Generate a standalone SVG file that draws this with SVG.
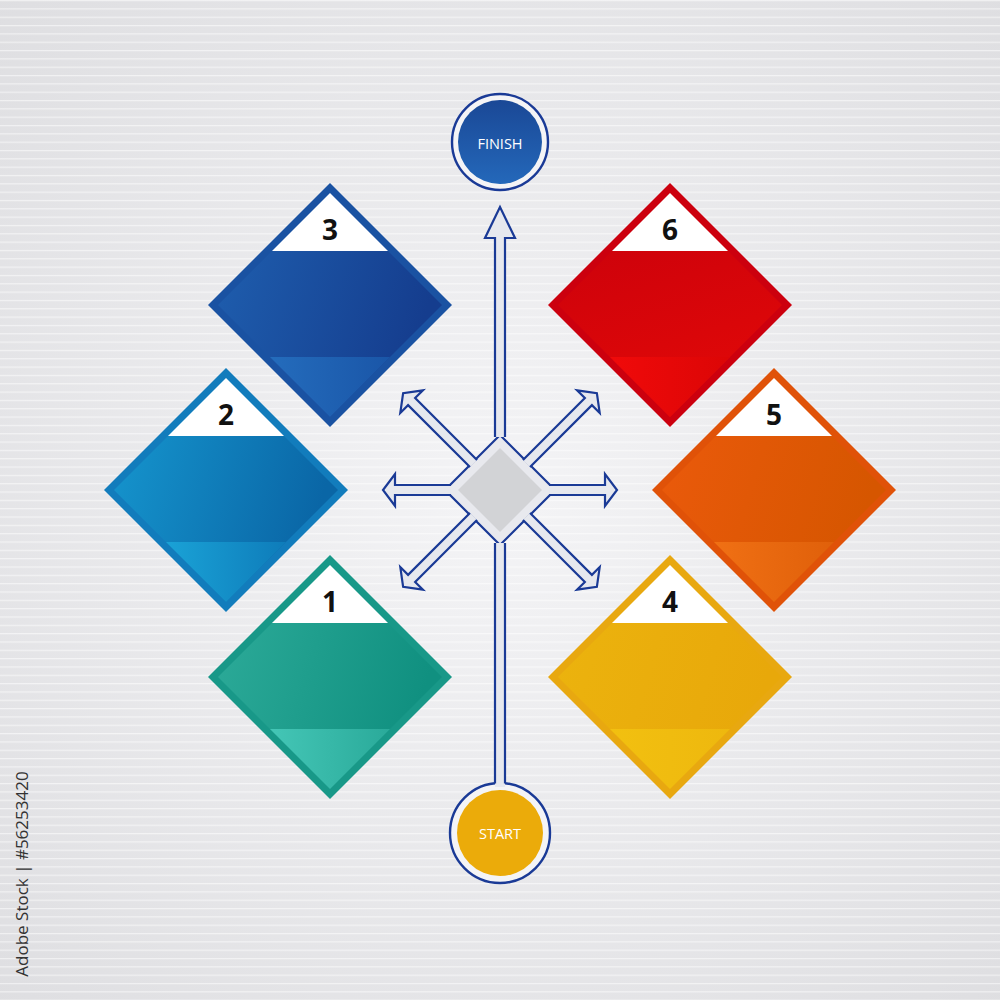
<svg xmlns="http://www.w3.org/2000/svg" width="1000" height="1000" viewBox="0 0 1000 1000">
<defs>
<radialGradient id="bg" cx="0.5" cy="0.5" r="0.75">
<stop offset="0" stop-color="#f4f4f6"/><stop offset="1" stop-color="#dddde0"/>
</radialGradient>
<pattern id="lines" width="20" height="8.33" patternUnits="userSpaceOnUse">
<rect x="0" y="0" width="20" height="1.2" fill="#ffffff" opacity="0.55"/>
</pattern>
<linearGradient id="g3" x1="0" y1="0" x2="1" y2="0.3"><stop offset="0" stop-color="#1f60b0"/><stop offset="1" stop-color="#153d8e"/></linearGradient>
<linearGradient id="b3" x1="0" y1="0" x2="1" y2="0"><stop offset="0" stop-color="#246cbc"/><stop offset="1" stop-color="#1a56a8"/></linearGradient>
<linearGradient id="g2" x1="0" y1="0" x2="1" y2="0.3"><stop offset="0" stop-color="#1698d0"/><stop offset="1" stop-color="#0a66a6"/></linearGradient>
<linearGradient id="b2" x1="0" y1="0" x2="1" y2="0"><stop offset="0" stop-color="#1aa2d6"/><stop offset="1" stop-color="#0e7cba"/></linearGradient>
<linearGradient id="g1" x1="0" y1="0" x2="1" y2="0.3"><stop offset="0" stop-color="#2eac9a"/><stop offset="1" stop-color="#109080"/></linearGradient>
<linearGradient id="b1" x1="0" y1="0" x2="1" y2="0"><stop offset="0" stop-color="#44c6b6"/><stop offset="1" stop-color="#2aaa9a"/></linearGradient>
<linearGradient id="g6" x1="0" y1="0" x2="0.3" y2="1"><stop offset="0" stop-color="#c8000c"/><stop offset="1" stop-color="#e00808"/></linearGradient>
<linearGradient id="b6" x1="0" y1="0" x2="1" y2="0"><stop offset="0" stop-color="#f00a0a"/><stop offset="1" stop-color="#dc0606"/></linearGradient>
<linearGradient id="g5" x1="0" y1="0" x2="1" y2="0.3"><stop offset="0" stop-color="#ec5a0c"/><stop offset="1" stop-color="#d65600"/></linearGradient>
<linearGradient id="b5" x1="0" y1="0" x2="1" y2="0"><stop offset="0" stop-color="#f07014"/><stop offset="1" stop-color="#e0600a"/></linearGradient>
<linearGradient id="g4" x1="0" y1="0" x2="1" y2="0.3"><stop offset="0" stop-color="#ecb40e"/><stop offset="1" stop-color="#e8a80a"/></linearGradient>
<linearGradient id="b4" x1="0" y1="0" x2="1" y2="0"><stop offset="0" stop-color="#f2c010"/><stop offset="1" stop-color="#eeb80e"/></linearGradient>
<linearGradient id="gfin" x1="0" y1="0" x2="0" y2="1"><stop offset="0" stop-color="#1a4896"/><stop offset="1" stop-color="#2468ba"/></linearGradient>
</defs>
<style>
.num{font-family:"Open Sans","Noto Sans",sans-serif;font-weight:700;font-size:28px;fill:#111;text-anchor:middle}
.lbl{font-family:"Open Sans","Noto Sans",sans-serif;font-size:14.5px;fill:#ffffff;text-anchor:middle}
.tri{fill:#ffffff}
.arr{fill:#e6e8ee;stroke:#1a3a96;stroke-width:2.2;stroke-linejoin:miter}
.ring{fill:#f4f4f6;stroke:#1a3a96;stroke-width:2.4}
.side{font-family:"Open Sans","Noto Sans",sans-serif;font-size:17px;fill:#333333;text-anchor:middle}
</style>
<rect x="0" y="0" width="1000" height="1000" fill="url(#bg)"/>
<rect x="0" y="0" width="1000" height="1000" fill="url(#lines)"/>

<g id="step3">
<polygon points="330,183 452,305 330,427 208,305" fill="#1a52a2"/>
<polygon points="330,193 442,305 330,417 218,305" fill="url(#g3)"/>
<polygon points="270,357 390,357 330,417" fill="url(#b3)"/>
<polygon class="tri" points="330,193 388,251 272,251"/>
<text class="num" x="330" y="240">3</text>
</g>
<g id="step2">
<polygon points="226,368 348,490 226,612 104,490" fill="#127cbc"/>
<polygon points="226,378 338,490 226,602 114,490" fill="url(#g2)"/>
<polygon points="166,542 286,542 226,602" fill="url(#b2)"/>
<polygon class="tri" points="226,378 284,436 168,436"/>
<text class="num" x="226" y="425">2</text>
</g>
<g id="step1">
<polygon points="330,555 452,677 330,799 208,677" fill="#189888"/>
<polygon points="330,565 442,677 330,789 218,677" fill="url(#g1)"/>
<polygon points="270,729 390,729 330,789" fill="url(#b1)"/>
<polygon class="tri" points="330,565 388,623 272,623"/>
<text class="num" x="330" y="612">1</text>
</g>
<g id="step6">
<polygon points="670,183 792,305 670,427 548,305" fill="#cc000e"/>
<polygon points="670,193 782,305 670,417 558,305" fill="url(#g6)"/>
<polygon points="610,357 730,357 670,417" fill="url(#b6)"/>
<polygon class="tri" points="670,193 728,251 612,251"/>
<text class="num" x="670" y="240">6</text>
</g>
<g id="step5">
<polygon points="774,368 896,490 774,612 652,490" fill="#e05208"/>
<polygon points="774,378 886,490 774,602 662,490" fill="url(#g5)"/>
<polygon points="714,542 834,542 774,602" fill="url(#b5)"/>
<polygon class="tri" points="774,378 832,436 716,436"/>
<text class="num" x="774" y="425">5</text>
</g>
<g id="step4">
<polygon points="670,555 792,677 670,799 548,677" fill="#e8a810"/>
<polygon points="670,565 782,677 670,789 558,677" fill="url(#g4)"/>
<polygon points="610,729 730,729 670,789" fill="url(#b4)"/>
<polygon class="tri" points="670,565 728,623 612,623"/>
<text class="num" x="670" y="612">4</text>
</g>

<g id="finish">
<circle class="ring" cx="500" cy="142" r="48"/>
<circle cx="500" cy="142" r="42" fill="url(#gfin)"/>
<text class="lbl" x="500" y="149">FINISH</text>
</g>

<g id="start">
<circle class="ring" cx="500" cy="833" r="50"/>
<circle cx="500" cy="833" r="43" fill="#ebab0a"/>
<text class="lbl" x="500" y="839">START</text>
</g>

<g id="hub">
<polygon points="500,435 555,490 500,545 445,490" fill="#e8e9ee" stroke="#1a3a96" stroke-width="2.2"/>
</g>

<g id="connectors">
<path class="arr" d="M495,437 L495,238 L485,238 L500,207 L515,238 L505,238 L505,437"/>
<rect x="495" y="543" width="10" height="244" fill="#e6e8ee"/>
<path d="M495,543 L495,783.5 M505,543 L505,783.5" fill="none" stroke="#1a3a96" stroke-width="2.2"/>
<path class="arr" transform="translate(500,490)" d="M49,-5 L105,-5 L105,-16 L117,0 L105,16 L105,5 L49,5"/>
<path class="arr" transform="translate(500,490) rotate(180)" d="M49,-5 L105,-5 L105,-16 L117,0 L105,16 L105,5 L49,5"/>
<path class="arr" transform="translate(500,490) rotate(-45)" d="M37.5,-5 L125,-5 L125,-16 L137,0 L125,16 L125,5 L37.5,5"/>
<path class="arr" transform="translate(500,490) rotate(45)" d="M37.5,-5 L125,-5 L125,-16 L137,0 L125,16 L125,5 L37.5,5"/>
<path class="arr" transform="translate(500,490) rotate(135)" d="M37.5,-5 L125,-5 L125,-16 L137,0 L125,16 L125,5 L37.5,5"/>
<path class="arr" transform="translate(500,490) rotate(-135)" d="M37.5,-5 L125,-5 L125,-16 L137,0 L125,16 L125,5 L37.5,5"/>
</g>

<g id="hub-core">
<polygon points="500,448 542,490 500,532 458,490" fill="#d2d3d6"/>
</g>

<text class="side" transform="translate(28,874) rotate(-90)" x="0" y="0">Adobe Stock | #56253420</text>
</svg>
